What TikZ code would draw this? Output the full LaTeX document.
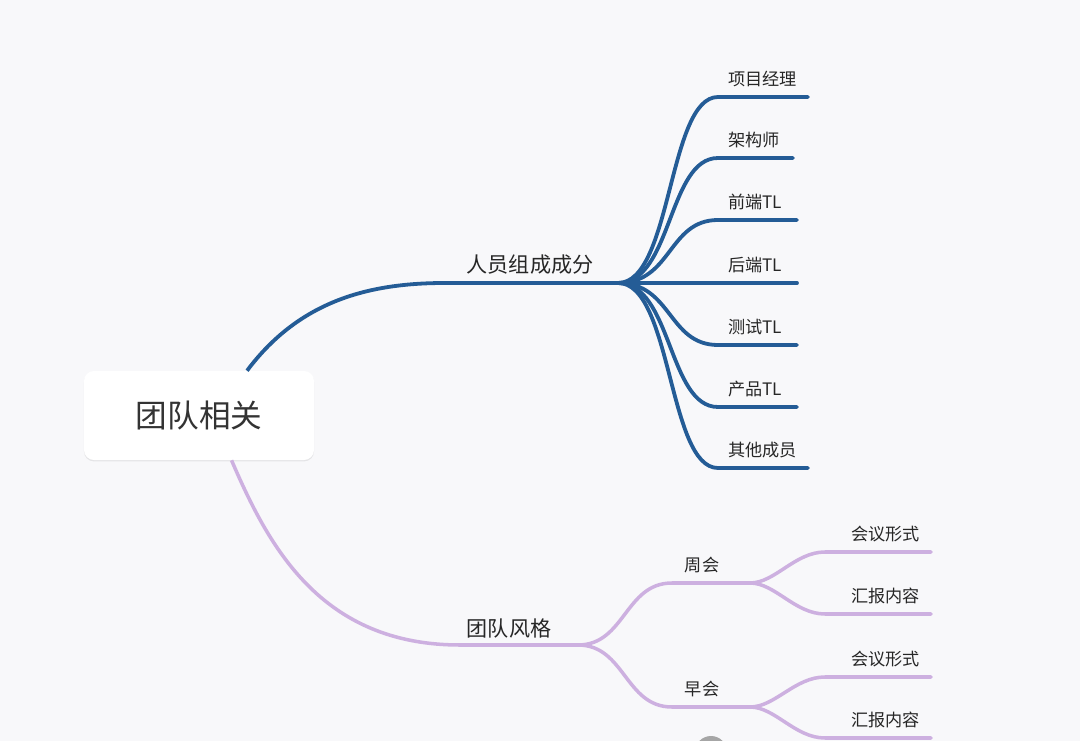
\documentclass[tikz,border=0pt]{standalone}
\usepackage{fontspec}
\usepackage{xcolor}
\usetikzlibrary{positioning,shadows}
\setmainfont{Noto Sans CJK SC}
\definecolor{pagebg}{HTML}{F8F8FA}
\definecolor{teamblue}{HTML}{245C96}
\definecolor{teampurple}{HTML}{CDB0E0}
\tikzset{%
	rootbox/.style   = {rectangle, rounded corners=0.25cm, fill=white, minimum width=5.75cm, minimum height=2.225cm, text=black!80, font=\fontsize{22.5pt}{24pt}\selectfont, drop shadow={shadow xshift=0pt, shadow yshift=-1pt, opacity=0.08, fill=black}},
	mainlabel/.style = {inner sep=0pt, text=black!85, font=\fontsize{15pt}{17pt}\selectfont},
	leaflabel/.style = {inner sep=0pt, text=black!85, font=\fontsize{12.2pt}{14pt}\selectfont},
	bluearm/.style   = {draw=teamblue, line width=2.7pt, line cap=round},
	purplearm/.style = {draw=teampurple, line width=2.5pt, line cap=round},
}
\begin{document}
\begin{tikzpicture}[x=0.025cm,y=-0.025cm]
	
	\fill[pagebg] (0,0) rectangle (1080,741);
	\useasboundingbox (0,0) rectangle (1080,741);
	\clip (0,0) rectangle (1080,741);
	
	\fill[black!35] (711,752) circle (16);  % watermark badge
	
	\coordinate (hubPeople) at (618,283);
	\coordinate (hubStyle) at (578,645);
	\coordinate (hubWeekly) at (750,583);
	\coordinate (hubMorning) at (750,707);
	
	% top branch
	\node[mainlabel] (people) at (530,265) {人员组成成分};
	\foreach \name/\txt/\ypos/\xend in {pm/项目经理/97/808, arch/架构师/158/793, fe/前端TL/220/797, be/后端TL/283/797, qa/测试TL/345/797, pd/产品TL/407/797, other/其他成员/468/808} {
		\node[leaflabel, anchor=west] (\name) at (728,\ypos-18) {\txt};
		\coordinate (\name Knee) at (718,\ypos);
		\coordinate (\name End) at (\xend,\ypos);
		\draw[bluearm] (hubPeople) .. controls (672,283) and (668,\ypos) .. (\name Knee) -- (\name End);
	}
	
	% bottom branch
	\node[mainlabel] (style) at (509,628) {团队风格};
	\node[leaflabel] (weekly) at (702,565) {周会};
	\node[leaflabel] (morning) at (702,689) {早会};
	\foreach \name/\txt/\ypos/\hub/\hubY in {wForm/会议形式/552/hubWeekly/583, wReport/汇报内容/614/hubWeekly/583, mForm/会议形式/677/hubMorning/707, mReport/汇报内容/738/hubMorning/707} {
		\node[leaflabel, anchor=west] (\name) at (851,\ypos-18) {\txt};
		\coordinate (\name Knee) at (825,\ypos);
		\coordinate (\name End) at (931,\ypos);
		\draw[purplearm] (\hub) .. controls (775,\hubY) and (795,\ypos) .. (\name Knee) -- (\name End);
	}
	\draw[purplearm] (hubStyle) .. controls (625,645) and (625,583) .. (672,583) -- (hubWeekly);
	\draw[purplearm] (hubStyle) .. controls (625,645) and (625,707) .. (672,707) -- (hubMorning);
	
	% root and its two arms
	\node[rootbox] (root) at (199,415.5) {\raisebox{-1pt}{团队相关}};
	\draw[bluearm, line cap=butt] (root.43) .. controls (300,300) and (370,283) .. (445,283) -- (hubPeople);
	\draw[purplearm, line cap=butt] (root.-54) .. controls (268,545) and (320,645) .. (460,645) -- (hubStyle);
	
\end{tikzpicture}
\end{document}
